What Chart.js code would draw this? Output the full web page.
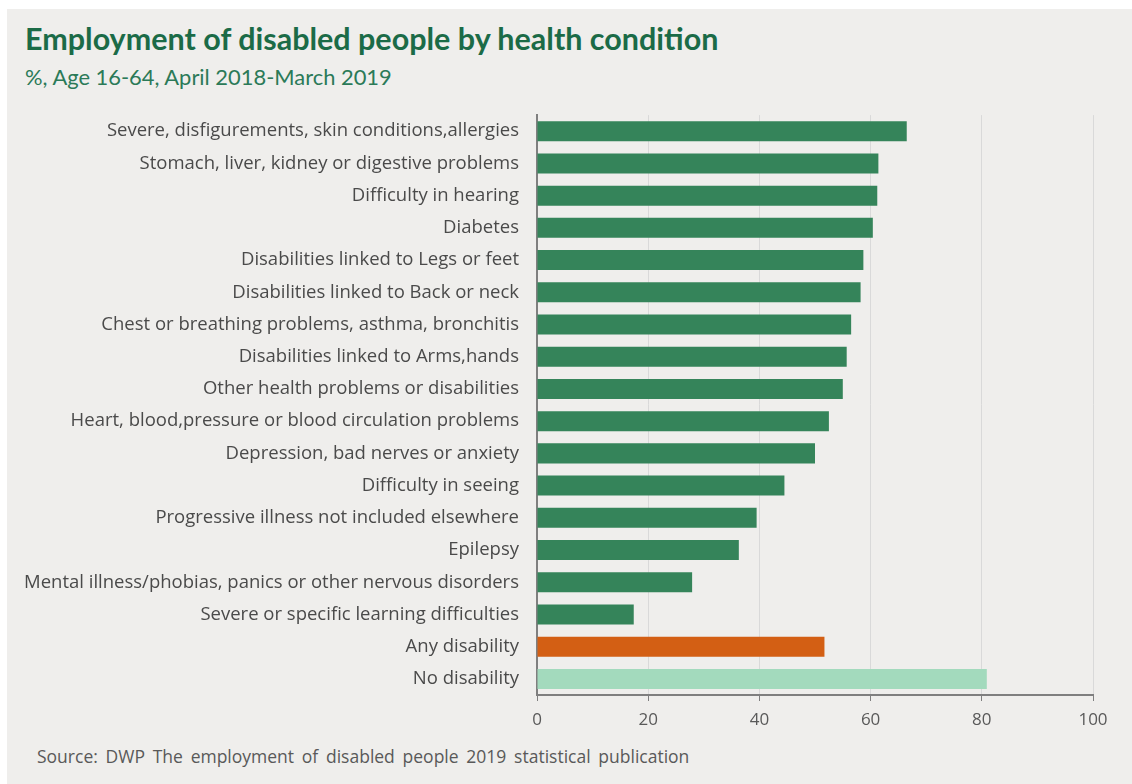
<!DOCTYPE html>
<html>
<head>
<meta charset="utf-8">
<script src="https://cdn.jsdelivr.net/npm/chart.js@4.4.0/dist/chart.umd.min.js"></script>
<style>
  html, body { margin: 0; padding: 0; background: #ffffff; }
  #panel { position: absolute; left: 7px; top: 9px; width: 1125px; height: 775px; background: #efeeec; }
  #titulo { position: absolute; left: 25px; top: 20px; font: bold 30.5px Lato, "Noto Sans", sans-serif; color: #1b6b47; white-space: nowrap; }
  #subtitulo { position: absolute; left: 25px; top: 63px; font: 21.9px Lato, "Noto Sans", sans-serif; color: #2b7a58; white-space: nowrap; }
  #fuente { position: absolute; left: 37px; top: 744px; font: 17.5px "Open Sans", sans-serif; color: #595959; white-space: nowrap; word-spacing: 3.2px; }
  #cont { position: absolute; left: 0; top: 86px; width: 1132px; height: 654px; }
</style>
</head>
<body>
<div id="panel"></div>
<div id="titulo">Employment of disabled people by health condition</div>
<div id="subtitulo">%, Age 16-64, April 2018-March 2019</div>
<div id="fuente">Source: DWP The employment of disabled people 2019 statistical publication</div>
<div id="cont"><canvas id="grafico"></canvas></div>
<script>
const condiciones = [
  "Severe, disfigurements, skin conditions,allergies",
  "Stomach, liver, kidney or digestive problems",
  "Difficulty in hearing",
  "Diabetes",
  "Disabilities linked to Legs or feet",
  "Disabilities linked to Back or neck",
  "Chest or breathing problems, asthma, bronchitis",
  "Disabilities linked to Arms,hands",
  "Other health problems or disabilities",
  "Heart, blood,pressure or blood circulation problems",
  "Depression, bad nerves or anxiety",
  "Difficulty in seeing",
  "Progressive illness not included elsewhere",
  "Epilepsy",
  "Mental illness/phobias, panics or other nervous disorders",
  "Severe or specific learning difficulties",
  "Any disability",
  "No disability"
];
const empleo = [66.5, 61.4, 61.2, 60.4, 58.7, 58.2, 56.5, 55.7, 55.0, 52.5, 50.0, 44.5, 39.5, 36.3, 27.9, 17.4, 51.7, 80.9];
const colores = condiciones.map(c => c === "Any disability" ? "#d35f14" : (c === "No disability" ? "#a3dabd" : "#35845a"));
const ticksX = [0, 20, 40, 60, 80, 100];

const ctx = document.getElementById('grafico').getContext('2d');
const grafico = new Chart(ctx, {
  type: 'bar',
  data: {
    labels: condiciones,
    datasets: [{
      data: empleo,
      backgroundColor: colores,
      barPercentage: 0.9,
      categoryPercentage: 0.69
    }]
  },
  options: {
    indexAxis: 'y',
    responsive: true,
    maintainAspectRatio: false,
    animation: false,
    layout: { padding: { left: 0, right: 39, top: 14, bottom: 0 } },
    plugins: { legend: { display: false }, tooltip: { enabled: false } },
    scales: {
      x: {
        min: 0,
        max: 100,
        afterBuildTicks: s => { s.ticks = ticksX.map(v => ({ value: v })); },
        afterFit: s => { s.height = 45; },
        grid: { color: '#d9d9d9', lineWidth: 1, tickLength: 6, tickColor: '#7f7f7f' },
        border: { color: '#7f7f7f', width: 2 },
        ticks: { color: '#595959', font: { family: 'Open Sans', size: 17 }, padding: 9 }
      },
      y: {
        afterFit: s => { s.width = 537; },
        grid: { display: false, drawTicks: false },
        border: { display: true, color: '#7f7f7f', width: 2 },
        ticks: { color: '#4a4a4a', font: { family: 'Open Sans', size: 18.5 }, padding: 18, autoSkip: false }
      }
    }
  }
});
</script>
</body>
</html>
